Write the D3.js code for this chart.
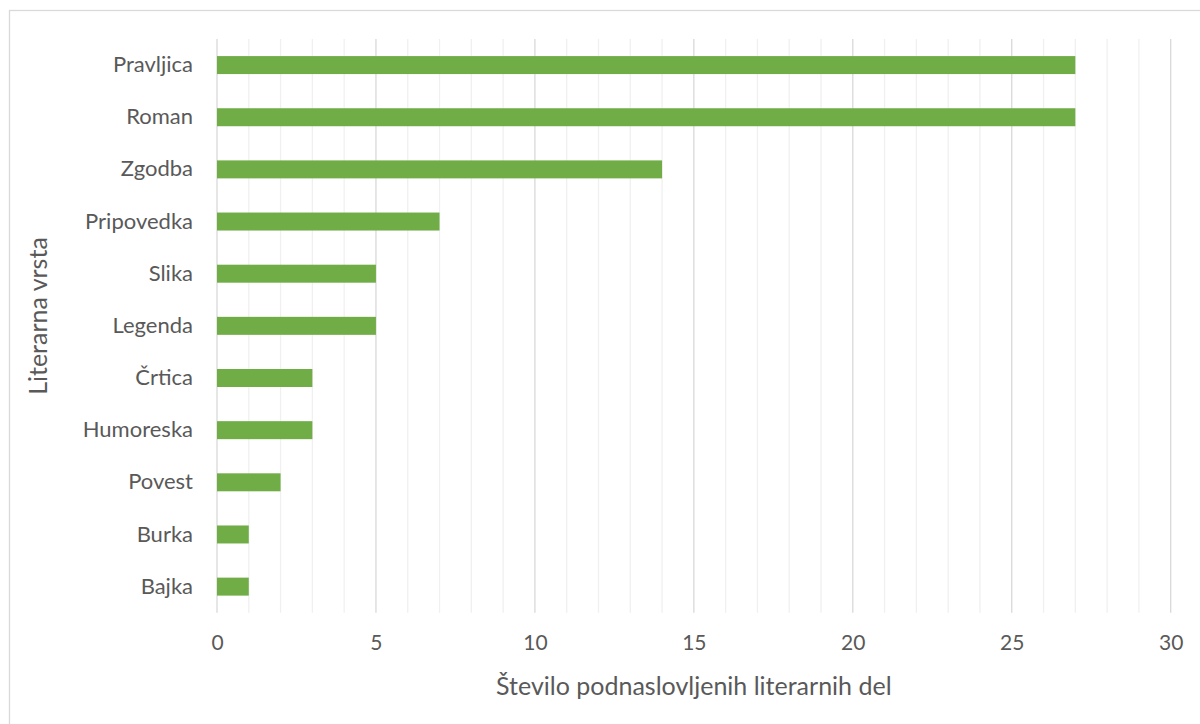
<!DOCTYPE html>
<html><head><meta charset="utf-8">
<script src="https://cdn.jsdelivr.net/npm/d3@7"></script>
<style>body{margin:0;background:#fff}svg{display:block}text{font-family:Lato,"Open Sans",sans-serif;fill:#595959}</style>
</head><body>
<svg id="c" width="1200" height="724"></svg>
<script>
const categories = ["Pravljica","Roman","Zgodba","Pripovedka","Slika","Legenda","Črtica","Humoreska","Povest","Burka","Bajka"];
const values = [27,27,14,7,5,5,3,3,2,1,1];
const xTicks = [0,5,10,15,20,25,30];
const xTitle = "Število podnaslovljenih literarnih del";
const yTitle = "Literarna vrsta";

const svg = d3.select("#c");
svg.append("rect").attr("x",9.5).attr("y",10.5).attr("width",1300).attr("height",800)
  .attr("fill","#fff").attr("stroke","#d9d9d9").attr("stroke-width",1.3);

const L=217, R=1170.7, T=39, B=612.7;
const x = d3.scaleLinear().domain([0,30]).range([L,R]);
const y = d3.scaleBand().domain(categories).range([T,B]).paddingInner(0.655).paddingOuter(0.3275);

const g = svg.append("g");
g.selectAll("line.minor").data(d3.range(0,31)).join("line")
  .attr("x1",d=>x(d)).attr("x2",d=>x(d)).attr("y1",T).attr("y2",B)
  .attr("stroke",d=>d%5===0?"#d9d9d9":"#f0f0f0").attr("stroke-width",1.3);

g.selectAll("rect.bar").data(categories).join("rect")
  .attr("x",x(0)).attr("y",d=>y(d)).attr("width",(d,i)=>x(values[i])-x(0)).attr("height",y.bandwidth())
  .attr("fill","#70ad47");

const xa = svg.append("g").attr("transform",`translate(0,${B})`)
  .call(d3.axisBottom(x).tickValues(xTicks).tickSize(0).tickPadding(22));
xa.select(".domain").remove();
xa.selectAll("text").style("font-size","21px").attr("fill","#595959");

const ya = svg.append("g").attr("transform",`translate(${L},0)`)
  .call(d3.axisLeft(y).tickSize(0).tickPadding(24));
ya.select(".domain").remove();
ya.selectAll("text").style("font-size","22px").attr("fill","#595959");

svg.append("text").attr("x",(L+R)/2).attr("y",695).attr("text-anchor","middle")
  .style("font-size","25px").text(xTitle);
svg.append("text").attr("transform",`translate(47,316) rotate(-90)`).attr("text-anchor","middle")
  .style("font-size","25px").text(yTitle);
</script>
</body></html>
